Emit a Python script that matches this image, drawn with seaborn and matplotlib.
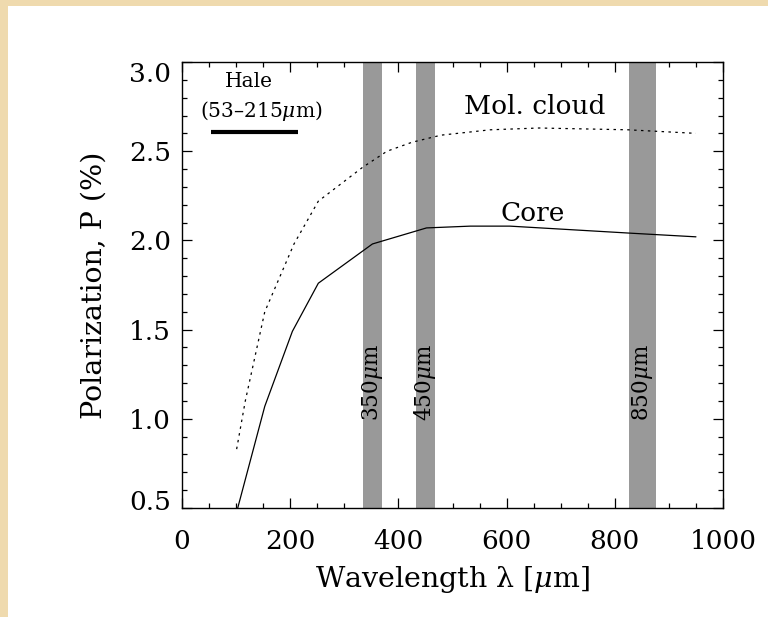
import matplotlib
matplotlib.use("Agg")
import matplotlib.pyplot as plt
import matplotlib.transforms as mtransforms
import seaborn as sns
import pandas as pd
from matplotlib.ticker import MultipleLocator, FuncFormatter

# ---- data ----
cloud_wavelength = [101, 117, 153, 207, 252, 334, 379, 425, 479, 570, 660, 824, 950]
cloud_polarization = [0.83, 1.10, 1.60, 1.98, 2.22, 2.41, 2.50, 2.55, 2.59, 2.62, 2.63, 2.62, 2.60]

core_wavelength = [103, 153, 204, 252, 352, 452, 533, 606, 832, 950]
core_polarization = [0.50, 1.07, 1.49, 1.76, 1.98, 2.07, 2.08, 2.08, 2.04, 2.02]

band_centers = [352, 450, 852]
band_widths = [35, 35, 50]
band_labels = ["350$\\mu$m", "450$\\mu$m", "850$\\mu$m"]

hale_range = [53, 215]
hale_level = 2.605

x_ticks = [0, 200, 400, 600, 800, 1000]
y_ticks = [0.5, 1.0, 1.5, 2.0, 2.5, 3.0]

sns.set_style("ticks")
plt.rcParams["font.family"] = ["DejaVu Serif"]
plt.rcParams["mathtext.fontset"] = "dejavuserif"
plt.rcParams["text.color"] = "black"
plt.rcParams["axes.labelcolor"] = "black"
plt.rcParams["xtick.color"] = "black"
plt.rcParams["ytick.color"] = "black"
plt.rcParams["xtick.labelcolor"] = "black"
plt.rcParams["ytick.labelcolor"] = "black"

fig = plt.figure(figsize=(7.68, 6.17), dpi=100)
fig.patch.set_facecolor("#EFDAAE")

# white panel behind the plot
bg = fig.add_axes([8 / 768, 0, 1 - 8 / 768, 1 - 6 / 617], zorder=-10)
bg.set_facecolor("white")
bg.set_xticks([])
bg.set_yticks([])
for s in bg.spines.values():
    s.set_visible(False)

ax = fig.add_axes([182 / 768, 1 - 508 / 617, (723 - 182) / 768, (508 - 62) / 617], zorder=1)
ax.set_facecolor("white")

# bands
for c, w, lab in zip(band_centers, band_widths, band_labels):
    ax.axvspan(c - w / 2, c + w / 2, color="#999999", lw=0, zorder=1)
    ax.text(c, 1.20, lab, rotation=90, ha="center", va="center",
            fontsize=15.5, color="black", zorder=3)

cloud = pd.DataFrame({"wavelength": cloud_wavelength, "P": cloud_polarization})
core = pd.DataFrame({"wavelength": core_wavelength, "P": core_polarization})

sns.lineplot(data=cloud, x="wavelength", y="P", ax=ax, color="black",
             lw=0.9, linestyle=(0, (2, 3.5)), zorder=2)
sns.lineplot(data=core, x="wavelength", y="P", ax=ax, color="black",
             lw=0.9, zorder=2)

# Hale bar
ax.plot(hale_range, [hale_level, hale_level], color="black", lw=3.0,
        solid_capstyle="butt", zorder=3)
ax.text(124, 2.89, "Hale", ha="center", va="center", fontsize=14.5)
ax.text(146, 2.725, "(53\u2013215$\\mu$m)", ha="center", va="center", fontsize=14.5)

ax.text(651, 2.75, "Mol. cloud", ha="center", va="center", fontsize=19)
ax.text(649, 2.15, "Core", ha="center", va="center", fontsize=19)

ax.set_xlim(0, 1000)
ax.set_ylim(0.5, 3.0)
ax.set_xticks(x_ticks)
ax.set_yticks(y_ticks)
ax.xaxis.set_minor_locator(MultipleLocator(50))
ax.yaxis.set_minor_locator(MultipleLocator(0.1))
ax.xaxis.set_major_formatter(FuncFormatter(lambda v, p: f"{int(v)}"))
ax.yaxis.set_major_formatter(FuncFormatter(lambda v, p: f"{v:.1f}"))
ax.tick_params(which="both", direction="in", top=True, right=True,
               color="black", labelcolor="black", width=0.9)
ax.tick_params(which="major", length=7.5, labelsize=19)
ax.tick_params(which="minor", length=3.8)
ax.tick_params(axis="x", which="major", pad=15)
ax.tick_params(axis="y", which="major", pad=8)
for s in ax.spines.values():
    s.set_color("black")
    s.set_linewidth(1.0)

# the end labels of the y axis sit slightly inside the frame in the reference
yt = ax.yaxis.get_major_ticks()
yt[0].label1.set_transform(yt[0].label1.get_transform() +
                           mtransforms.ScaledTranslation(0, 8 / 100, fig.dpi_scale_trans))
yt[-1].label1.set_transform(yt[-1].label1.get_transform() +
                            mtransforms.ScaledTranslation(0, -10 / 100, fig.dpi_scale_trans))

ax.set_xlabel("Wavelength \u03bb [$\\mu$m]", fontsize=20.5, labelpad=7, color="black")
ax.set_ylabel("Polarization, P (%)", fontsize=20.5, labelpad=15, color="black")

fig.savefig("out.png", dpi=100, facecolor=fig.get_facecolor())
